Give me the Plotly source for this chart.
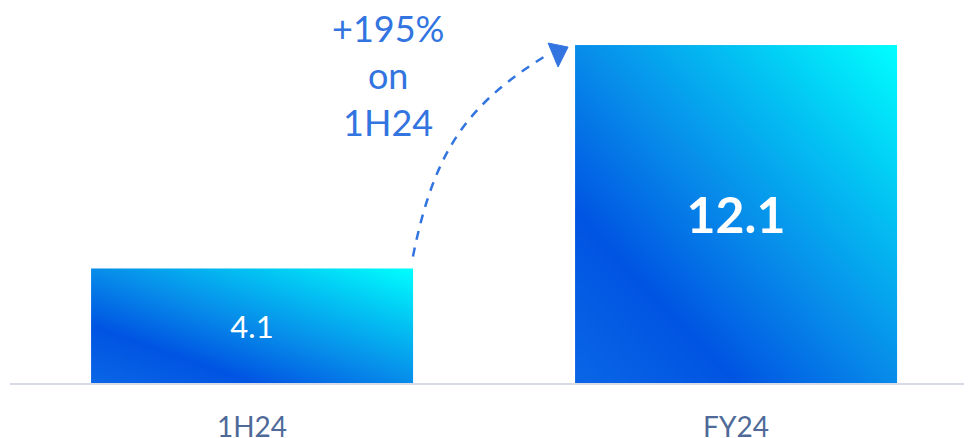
import plotly.graph_objects as go

# ---- data ----
categories = ["1H24", "FY24"]
values = [4.1, 12.1]
bold_flags = [False, True]
growth_label = "+195%"
growth_base = "1H24"

# ---- layout constants ----
PAGE = 8                 # browser body margin
W, H = 972 - PAGE, 438 - PAGE
ML, MR, MT, MB = 2, 0, 0, 55
PW, PH = W - ML - MR, H - MT - MB
CAT_PX = 484.0           # pixels per category
Y_PX = 27.93             # pixels per unit
XR = [-0.5, -0.5 + PW / CAT_PX]
YR = [0, PH / Y_PX]
BAR_W = 0.665

grad_stops = [[0.0, "#0a66e6"], [0.25, "#0054e2"], [0.5, "#078cea"], [0.75, "#03c4f3"], [1.0, "#00ffff"]]
BLUE = "#3274e0"
FONT = "Lato"


# helpers work in browser-window pixels
def xp(x):
    return PAGE + ML + (x - XR[0]) / (XR[1] - XR[0]) * PW


def yp(y):
    return PAGE + MT + PH - (y - YR[0]) / (YR[1] - YR[0]) * PH


def xd(px):
    return XR[0] + (px - PAGE - ML) / PW * (XR[1] - XR[0])


def yd(py):
    return YR[0] + (PAGE + MT + PH - py) / PH * (YR[1] - YR[0])


fig = go.Figure()

# gradient fills (bounding-box diagonal gradient) under each bar
N = 48
for i, v in enumerate(values):
    x0, x1 = i - BAR_W / 2, i + BAR_W / 2
    xs = [x0 + (k + 0.5) * (x1 - x0) / N for k in range(N)]
    ys = [(j + 0.5) * v / N for j in range(N)]
    z = [[((k + 0.5) / N + (j + 0.5) / N) / 2 for k in range(N)] for j in range(N)]
    fig.add_trace(go.Heatmap(x=xs, y=ys, z=z, zmin=0, zmax=1, colorscale=grad_stops,
                             zsmooth="best", showscale=False, hoverinfo="skip"))

# bars carrying the value labels
texts = [f"<b>{v}</b>" if b else f"{v}" for v, b in zip(values, bold_flags)]
fig.add_trace(go.Bar(
    x=list(range(len(values))), y=values, width=BAR_W,
    marker=dict(color="rgba(0,0,0,0)", line=dict(width=0)),
    text=texts, textposition="inside", insidetextanchor="middle",
    textfont=dict(color="white", size=[31, 50], family=FONT),
    constraintext="none", cliponaxis=False, hoverinfo="x+y",
))

# curved dashed arrow from bar 1 top to bar 2 top
p0 = (xp(0 + BAR_W / 2), yp(values[0]) - 12)
bx, by = xp(1 - BAR_W / 2), yp(values[1])
p3 = (bx - 25, by + 8)
c1 = (p0[0] + 22, p0[1] - 110)
c2 = (p3[0] - 80, p3[1] + 49)
tip = (bx - 7, by + 2)
h1 = (bx - 27, by - 2)
h2 = (bx - 17, by + 22)


def d(pt):
    return f"{xd(pt[0]):.5f},{yd(pt[1]):.5f}"


fig.add_shape(type="path", xref="x", yref="y",
              path=f"M {d(p0)} C {d(c1)} {d(c2)} {d(p3)}",
              line=dict(color=BLUE, width=2.5, dash="9px,8px"))
fig.add_shape(type="path", xref="x", yref="y",
              path=f"M {d(tip)} L {d(h1)} L {d(h2)} Z",
              fillcolor=BLUE, line=dict(color=BLUE, width=1))

fig.add_annotation(x=xd(388), y=yd(75), xref="x", yref="y",
                   text=f"{growth_label}<br>on<br>{growth_base}", showarrow=False,
                   align="center", xanchor="center", yanchor="middle",
                   font=dict(size=36, color=BLUE, family=FONT))

fig.update_layout(
    width=W, height=H, margin=dict(l=ML, r=MR, t=MT, b=MB, autoexpand=False),
    paper_bgcolor="white", plot_bgcolor="white", showlegend=False,
    font=dict(family=FONT),
    xaxis=dict(range=XR, tickvals=list(range(len(categories))), ticktext=categories,
               showgrid=False, zeroline=False, showline=True, linecolor="#d6dbe7",
               linewidth=2, ticks="", ticklabelstandoff=18, automargin=False,
               tickfont=dict(size=28, color="#4f6a98", family=FONT), fixedrange=True),
    yaxis=dict(range=YR, visible=False, showgrid=False, zeroline=False,
               automargin=False, fixedrange=True),
)

fig.write_html("out.html")
